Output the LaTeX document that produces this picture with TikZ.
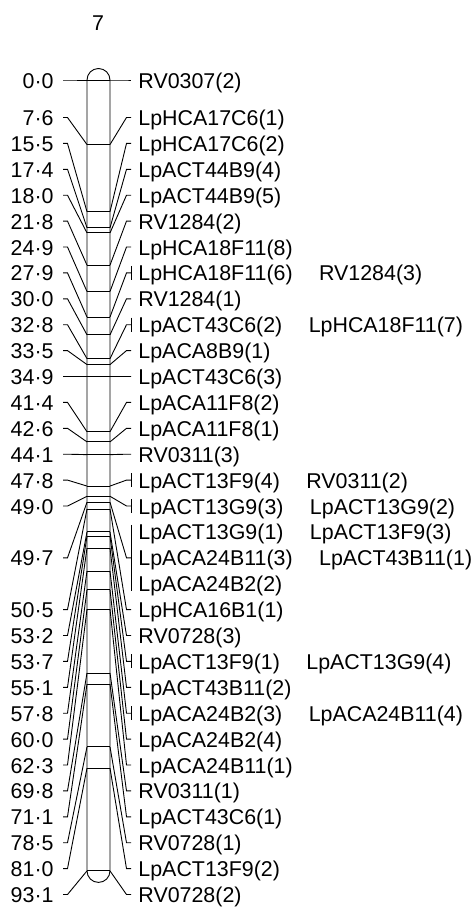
\documentclass[tikz,border=0pt]{standalone}
\usepackage{fontspec}
\setmainfont{Liberation Sans}
\begin{document}
\begin{tikzpicture}[x=1pt,y=-1pt,line width=0.9pt,
  num/.style={inner sep=0pt,anchor=base east,font=\fontsize{21.4}{25}\selectfont},
  mk/.style={inner sep=0pt,anchor=base west,font=\fontsize{21.4}{25}\selectfont},
  conn/.style={line width=0.9pt,line join=miter}]
\useasboundingbox (0,0) rectangle (474,908);
\node[inner sep=0pt,font=\fontsize{21.4}{25}\selectfont] (title) at (98,23) {7};
% chromosome bar
\draw[conn] (87,80) -- (87,870.9) arc[start angle=180,end angle=360,radius=11.5pt]
  -- (110,80) arc[start angle=0,end angle=180,radius=11.5pt] -- cycle;
\foreach \pp/\rr/\nn/\mA/\mB/\kk [count=\i] in {
0.0/0/0·0/RV0307(2)//0,
7.6/1/7·6/LpHCA17C6(1)//0,
15.5/2/15·5/LpHCA17C6(2)//0,
17.4/3/17·4/LpACT44B9(4)//0,
18.0/4/18·0/LpACT44B9(5)//0,
21.8/5/21·8/RV1284(2)//0,
24.9/6/24·9/LpHCA18F11(8)//0,
27.9/7/27·9/LpHCA18F11(6)/RV1284(3)/1,
30.0/8/30·0/RV1284(1)//0,
32.8/9/32·8/LpACT43C6(2)/LpHCA18F11(7)/1,
33.5/10/33·5/LpACA8B9(1)//0,
34.9/11/34·9/LpACT43C6(3)//0,
41.4/12/41·4/LpACA11F8(2)//0,
42.6/13/42·6/LpACA11F8(1)//0,
44.1/14/44·1/RV0311(3)//0,
47.8/15/47·8/LpACT13F9(4)/RV0311(2)/1,
49.0/16/49·0/LpACT13G9(3)/LpACT13G9(2)/1,
0/17//LpACT13G9(1)/LpACT13F9(3)/3,
49.7/18/49·7/LpACA24B11(3)/LpACT43B11(1)/2,
0/19//LpACA24B2(2)//3,
50.5/20/50·5/LpHCA16B1(1)//0,
53.2/21/53·2/RV0728(3)//0,
53.7/22/53·7/LpACT13F9(1)/LpACT13G9(4)/1,
55.1/23/55·1/LpACT43B11(2)//0,
57.8/24/57·8/LpACA24B2(3)/LpACA24B11(4)/1,
60.0/25/60·0/LpACA24B2(4)//0,
62.3/26/62·3/LpACA24B11(1)//0,
69.8/27/69·8/RV0311(1)//0,
71.1/28/71·1/LpACT43C6(1)//0,
78.5/29/78·5/RV0728(1)//0,
81.0/30/81·0/LpACT13F9(2)//0,
93.1/31/93·1/RV0728(2)//0}{
  \pgfmathsetmacro\py{80+8.495*\pp}
  \pgfmathsetmacro\ry{ifthenelse(\rr==0,80,376.5+25.9*(\rr-11))}
  \node[mk] (m\i) at (138,\ry+8) {\mA};
  \ifx\mB\empty\else
    \node[mk] (s\i) at ([xshift=25.5pt]m\i.base east) {\mB};
  \fi
  \ifnum\kk<3
    \node[num] (n\i) at (54,\ry+8) {\nn};
    \coordinate (bl\i) at (87,\py);
    \coordinate (br\i) at (110,\py);
    \coordinate (lt\i) at (63,\ry);
    \coordinate (rt\i) at (126.5,\ry);
    \draw[conn] (bl\i) -- (br\i);
    \draw[conn] (lt\i) -- ++(4.5,0) -- (bl\i);
    \draw[conn] (br\i) -- (rt\i) -- ++(4.5,0);
  \fi
  \ifnum\kk=1
    \draw[conn] (131,\ry-7) -- (131,\ry+7);
  \fi
  \ifnum\kk=2
    \draw[conn] (131,\ry-33) -- (131,\ry+33);
  \fi
}
\end{tikzpicture}
\end{document}
